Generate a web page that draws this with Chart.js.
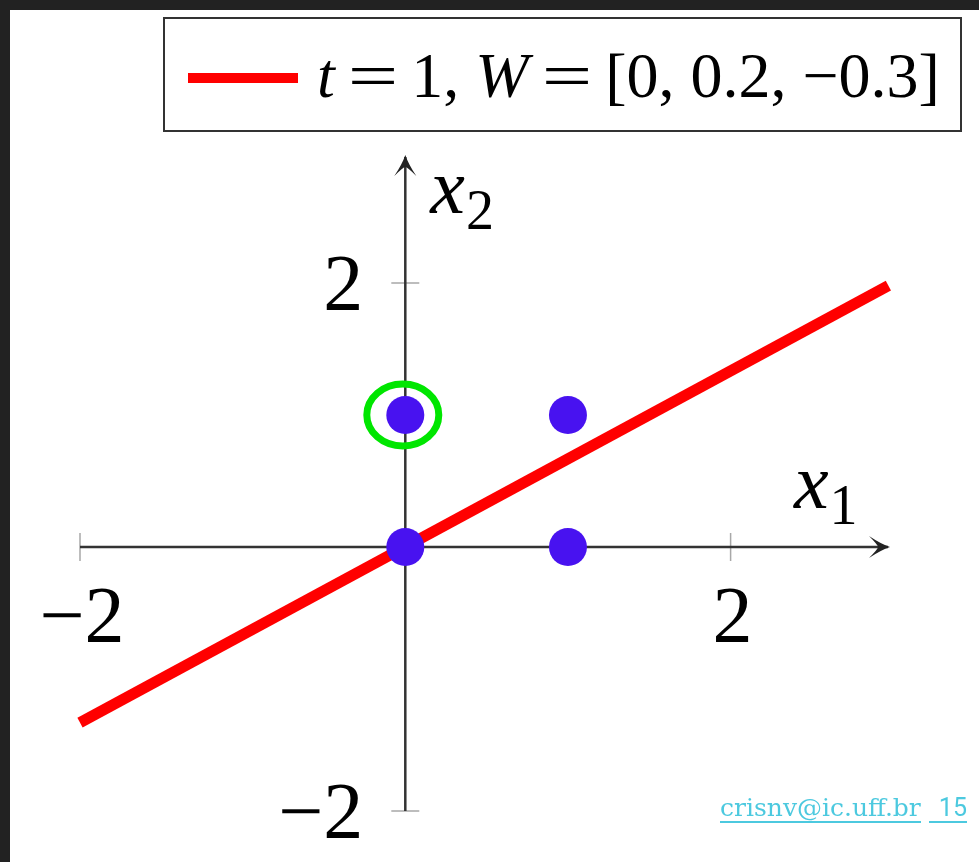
<!DOCTYPE html>
<html><head><meta charset="utf-8">
<script src="https://cdn.jsdelivr.net/npm/chart.js@4.4.1/dist/chart.umd.min.js"></script>
<style>
html,body{margin:0;padding:0;background:#222;width:979px;height:862px;overflow:hidden}
#page{position:absolute;left:10px;top:10px;width:969px;height:852px;background:#fff}
#wrap{position:absolute;left:0;top:0;width:979px;height:862px}
#footer{position:absolute;left:720px;top:795px;font-family:"DejaVu Serif",serif;font-size:25px;color:#4cc9df;white-space:nowrap;line-height:26px}
#footer span{display:inline-block;border-bottom:2px solid #4cc9df}
#footer .num{font-family:Roboto,sans-serif;font-size:25px;padding-left:10px;margin-left:8px}
</style></head>
<body>
<div id="page"></div>
<div id="wrap"><canvas id="c"></canvas></div>
<div id="footer"><span>crisnv@ic.uff.br</span><span class="num">15</span></div>
<script>
// ---- data ----
const pointsX1 = [0, 1, 0, 1];
const pointsX2 = [0, 0, 1, 1];
const lineX1 = [-2, 2.97];
const lineX2 = [-1.33, 1.98];
const highlightX1 = [0];
const highlightX2 = [1];
const xTickValues = [-2, 2];
const yTickValues = [-2, 2];
const xTickLabels = ['\u22122', '2'];
const yTickLabels = ['\u22122', '2'];
const axisX1Range = [-2, 2.98];
const axisX2Range = [-2, 2.97];
const legendLabel = 't = 1, W = [0, 0.2, \u22120.3]';
const axisTitleX1 = ['x', '1'];
const axisTitleX2 = ['x', '2'];

const SERIF = '"Liberation Serif","Times New Roman",serif';
const RED = '#ff0000';
const BLUE = 'rgb(72,18,240)';
const GREEN = '#00e600';

const drawPlugin = {
  id: 'mathAxes',
  beforeDatasetsDraw(chart) {
    const {ctx, scales: {x, y}} = chart;
    const x0 = x.getPixelForValue(0), y0 = y.getPixelForValue(0);
    const xl = x.getPixelForValue(axisX1Range[0]), xr = x.getPixelForValue(axisX1Range[1]);
    const yb = y.getPixelForValue(axisX2Range[0]), yt = y.getPixelForValue(axisX2Range[1]);
    ctx.save();
    // tick marks
    ctx.strokeStyle = '#a8a8a8';
    ctx.lineWidth = 1.5;
    ctx.beginPath();
    xTickValues.forEach(v => { const px = x.getPixelForValue(v); ctx.moveTo(px, y0 - 14); ctx.lineTo(px, y0 + 14); });
    yTickValues.forEach(v => { const py = y.getPixelForValue(v); ctx.moveTo(x0 - 14, py); ctx.lineTo(x0 + 14, py); });
    ctx.stroke();
    // axes
    ctx.strokeStyle = '#333';
    ctx.lineWidth = 2.5;
    ctx.beginPath();
    ctx.moveTo(xl, y0); ctx.lineTo(xr - 2, y0);
    ctx.moveTo(x0, yb); ctx.lineTo(x0, yt + 2);
    ctx.stroke();
    // arrow heads (curved, slightly filled)
    ctx.fillStyle = '#222';
    ctx.beginPath();
    ctx.moveTo(xr, y0);
    ctx.quadraticCurveTo(xr - 9, y0 - 3, xr - 21, y0 - 11);
    ctx.quadraticCurveTo(xr - 12, y0 - 2, xr - 12, y0);
    ctx.quadraticCurveTo(xr - 12, y0 + 2, xr - 21, y0 + 11);
    ctx.quadraticCurveTo(xr - 9, y0 + 3, xr, y0);
    ctx.fill();
    ctx.beginPath();
    ctx.moveTo(x0, yt);
    ctx.quadraticCurveTo(x0 - 3, yt + 9, x0 - 11, yt + 21);
    ctx.quadraticCurveTo(x0 - 2, yt + 12, x0, yt + 12);
    ctx.quadraticCurveTo(x0 + 2, yt + 12, x0 + 11, yt + 21);
    ctx.quadraticCurveTo(x0 + 3, yt + 9, x0, yt);
    ctx.fill();
    // tick labels
    ctx.fillStyle = '#000';
    ctx.font = '80px ' + SERIF;
    ctx.textBaseline = 'alphabetic';
    ctx.textAlign = 'center';
    xTickValues.forEach((v, i) => ctx.fillText(xTickLabels[i], x.getPixelForValue(v) + 2, y0 + 95));
    ctx.textAlign = 'right';
    yTickValues.forEach((v, i) => ctx.fillText(yTickLabels[i], x0 - 42, y.getPixelForValue(v) + 27));
    // axis titles
    ctx.textAlign = 'left';
    const title = (t, px, py) => {
      ctx.font = 'italic 78px ' + SERIF;
      ctx.fillText(t[0], px, py);
      const w = ctx.measureText(t[0]).width;
      ctx.font = '56px ' + SERIF;
      ctx.fillText(t[1], px + w + 1, py + 16);
    };
    title(axisTitleX1, xr - 96, y0 - 39);
    title(axisTitleX2, x0 + 25, yt + 58);
    ctx.restore();
  },
  afterDatasetsDraw(chart) {
    const {ctx, scales: {x, y}} = chart;
    ctx.save();
    ctx.strokeStyle = GREEN;
    ctx.lineWidth = 7;
    highlightX1.forEach((v, i) => {
      ctx.beginPath();
      ctx.ellipse(x.getPixelForValue(v) - 2.5, y.getPixelForValue(highlightX2[i]), 36, 31, 0, 0, Math.PI * 2);
      ctx.stroke();
    });
    ctx.restore();
  },
  afterDraw(chart) {
    const {ctx} = chart;
    ctx.save();
    // legend box
    ctx.fillStyle = '#fff';
    ctx.fillRect(163, 17, 799, 115);
    ctx.strokeStyle = '#333';
    ctx.lineWidth = 2;
    ctx.strokeRect(164, 18, 797, 113);
    // sample
    ctx.strokeStyle = RED;
    ctx.lineWidth = 10;
    ctx.beginPath();
    ctx.moveTo(188, 78); ctx.lineTo(298, 78);
    ctx.stroke();
    // label: italic letters, math-style spacing
    ctx.fillStyle = '#000';
    ctx.textBaseline = 'alphabetic';
    ctx.textAlign = 'left';
    const FS = 64, BASE = 97;
    let px = 317;
    const runs = legendLabel.match(/[A-Za-z]+|=|,|\s+|[^A-Za-z=,\s]+/g);
    runs.forEach(r => {
      if (/^\s+$/.test(r)) { px += 13; return; }
      if (r === '=') {
        ctx.font = FS + 'px ' + SERIF;
        const w = ctx.measureText(r).width;
        ctx.save();
        ctx.translate(px, BASE);
        ctx.scale(1.4, 1);
        ctx.fillText(r, 0, 0);
        ctx.restore();
        px += w * 1.4;
        return;
      }
      if (r === ',') {
        ctx.font = FS + 'px ' + SERIF;
        ctx.fillText(r, px, BASE);
        px += ctx.measureText(r).width + 3;
        return;
      }
      ctx.font = (/^[A-Za-z]/.test(r) ? 'italic ' : '') + FS + 'px ' + SERIF;
      ctx.fillText(r, px, BASE);
      px += ctx.measureText(r).width;
    });
    ctx.restore();
  }
};

new Chart(document.getElementById('c'), {
  type: 'scatter',
  data: {
    datasets: [
      {
        label: 'points',
        data: pointsX1.map((v, i) => ({x: v, y: pointsX2[i]})),
        backgroundColor: BLUE,
        borderWidth: 0,
        pointRadius: 19,
        pointHoverRadius: 19,
        clip: false
      },
      {
        label: legendLabel,
        data: lineX1.map((v, i) => ({x: v, y: lineX2[i]})),
        showLine: true,
        borderColor: RED,
        borderWidth: 11,
        borderCapStyle: 'butt',
        pointRadius: 0,
        pointHoverRadius: 0,
        clip: false
      }
    ]
  },
  options: {
    responsive: true,
    maintainAspectRatio: false,
    animation: false,
    events: [],
    layout: {padding: {left: 80, right: 89, top: 155, bottom: 51}},
    plugins: {legend: {display: false}, tooltip: {enabled: false}},
    scales: {
      x: {type: 'linear', min: axisX1Range[0], max: axisX1Range[1], display: false},
      y: {type: 'linear', min: axisX2Range[0], max: axisX2Range[1], display: false}
    }
  },
  plugins: [drawPlugin]
});
</script>
</body></html>
